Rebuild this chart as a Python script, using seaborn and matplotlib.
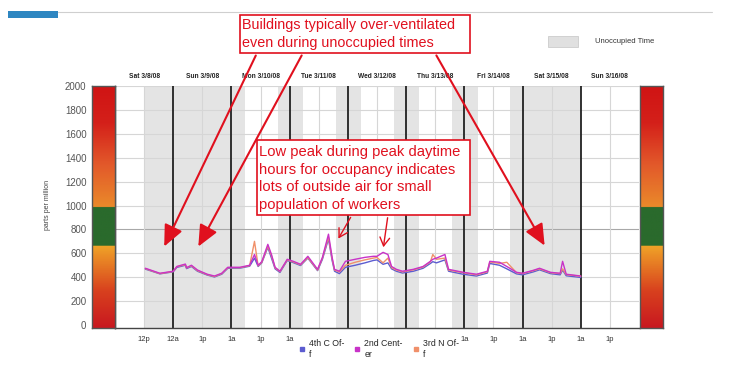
import numpy as np
import pandas as pd
import matplotlib
matplotlib.use('Agg')
import matplotlib.pyplot as plt
import seaborn as sns
from matplotlib.colors import LinearSegmentedColormap
from matplotlib.patches import Rectangle, FancyArrowPatch, FancyBboxPatch
from matplotlib.lines import Line2D

# hours since Sat 3/8/08 00:00
hours = [12.5, 18.5, 24, 25.5, 29, 29.5, 31.5, 34, 38, 41, 44, 46.5, 51.5, 55.5, 57.5, 59, 60.5,
         63, 64.5, 66, 68, 71, 73.5, 76.5, 79.5, 83.5, 85.5, 88, 89.5, 90.5, 92.5, 95, 99, 103,
         106.5, 108, 110.5, 112.5, 114, 116, 118.5, 123, 127, 130, 131, 132.5, 136, 137.5, 143.5,
         149, 153.5, 154.5, 158.5, 161.5, 165.5, 168, 172.5, 175, 179.5, 183.5, 184.5, 186, 192]
ppm_4th_c_off = [468, 428, 445, 482, 500, 472, 490, 450, 418, 402, 425, 475, 476, 492, 560, 490, 520,
                 650, 560, 470, 440, 540, 522, 498, 560, 455, 550, 720, 540, 450, 430, 483, 500, 520,
                 540, 545, 508, 520, 470, 450, 435, 450, 475, 515, 530, 520, 545, 450, 425,
                 410, 435, 515, 500, 470, 428, 420, 445, 462, 430, 420, 460, 412, 398]
ppm_2nd_center = [475, 433, 450, 490, 510, 480, 500, 460, 425, 410, 433, 483, 483, 500, 590, 500, 530,
                  675, 590, 483, 450, 550, 533, 508, 575, 466, 566, 760, 566, 466, 450, 533, 550, 566,
                  575, 575, 608, 590, 490, 466, 450, 466, 490, 533, 550, 560, 590, 466, 441,
                  425, 450, 533, 525, 490, 441, 433, 458, 475, 441, 433, 533, 425, 410]
ppm_3rd_n_off = [472, 430, 448, 488, 505, 478, 496, 455, 422, 406, 430, 480, 480, 497, 700, 495, 525,
                 660, 580, 478, 447, 545, 528, 504, 565, 460, 560, 735, 555, 460, 445, 500, 525, 545,
                 560, 565, 520, 560, 480, 460, 445, 462, 485, 528, 590, 550, 560, 460, 438,
                 420, 445, 528, 515, 525, 438, 430, 455, 470, 438, 430, 470, 422, 408]

series_names = ['4th C Off', '2nd Center', '3rd N Off']
legend_labels = ['4th C Of-\nf', '2nd Cent-\ner', '3rd N Of-\nf']
series_colors = ['#5c5cd0', '#c832c8', '#f0906a']

day_labels = ['Sat 3/8/08', 'Sun 3/9/08', 'Mon 3/10/08', 'Tue 3/11/08', 'Wed 3/12/08',
              'Thu 3/13/08', 'Fri 3/14/08', 'Sat 3/15/08', 'Sun 3/16/08']
tick_hours = list(range(12, 205, 12))
tick_labels = ['12p', '12a', '1p', '1a', '1p', '1a', '', '', '', '', '', '1a', '1p', '1a', '1p', '1a', '1p']
unoccupied = [(12, 48), (48, 53.5), (67, 77.5), (91, 101.5), (115, 125.5), (139, 149.5), (163, 192)]

sns.set_style('white')
plt.rcParams['font.family'] = ['Liberation Sans', 'DejaVu Sans']

W, H = 730, 377
def fx(x):
    return x / W
def fy(y):
    return 1 - y / H

fig = plt.figure(figsize=(7.3, 3.77), dpi=100)
ax = fig.add_axes([fx(115), fy(328), (639 - 115) / W, (328 - 86) / H])
cl = fig.add_axes([fx(92), fy(328), 23 / W, (328 - 86) / H])
cr = fig.add_axes([fx(640), fy(328), 23 / W, (328 - 86) / H])

y0, y1 = -25, 2000

# unoccupied shading, grid, day separators
for a, b in unoccupied:
    ax.axvspan(a, b, color='#e4e4e4', lw=0, zorder=0)
for v in range(200, 2001, 200):
    ax.axhline(v, color='#a8a8a8' if v == 800 else '#d6d6d6', lw=0.8, zorder=1)
for h in range(12, 216, 24):
    ax.axvline(h, color='#d6d6d6', lw=0.8, zorder=1)
for h in range(24, 216, 24):
    ax.axvline(h, color='#222222', lw=1.3, zorder=2)

df = pd.DataFrame({
    'hour': hours * 3,
    'ppm': ppm_4th_c_off + ppm_2nd_center + ppm_3rd_n_off,
    'sensor': [series_names[0]] * len(hours) + [series_names[1]] * len(hours) + [series_names[2]] * len(hours),
})
sns.lineplot(data=df, x='hour', y='ppm', hue='sensor',
             hue_order=['4th C Off', '3rd N Off', '2nd Center'],
             palette=dict(zip(series_names, series_colors)),
             lw=1.0, legend=False, ax=ax, zorder=3)

ax.set_xlim(0, 216)
ax.set_ylim(y0, y1)
ax.set_xlabel('')
ax.set_ylabel('')
ax.set_xticks(tick_hours)
ax.set_xticklabels(tick_labels, fontsize=5.5, color='#333333')
ax.tick_params(axis='x', length=2, pad=4, color='#555555')
ax.set_yticks(range(0, 2001, 200))
ax.set_yticks(range(100, 2000, 200), minor=True)
ax.tick_params(axis='y', which='both', direction='in', length=3, labelleft=False, color='#555555')
for s in ['top', 'right']:
    ax.spines[s].set_visible(False)
for s in ['left', 'bottom']:
    ax.spines[s].set_color('#444444')
    ax.spines[s].set_linewidth(1.0)

for i, lab in enumerate(day_labels):
    ax.text(i * 24 + 12, 2080, lab, ha='center', va='center', fontsize=4.8,
            fontweight='bold', color='#222222', clip_on=False)

# colour scale bars
cmap = LinearSegmentedColormap.from_list('co2', [
    (0.0, '#c81820'), (0.15, '#d8401e'), (0.34, '#f0a428'), (0.34, '#2a6a2c'),
    (0.5, '#2a6a2c'), (0.5, '#ea8a2a'), (0.68, '#e2582a'), (0.85, '#d4201a'), (1.0, '#d01414')])
grad = np.linspace(0, 1, 400).reshape(-1, 1)
for c in (cl, cr):
    c.imshow(grad, cmap=cmap, aspect='auto', origin='lower', extent=[0, 1, y0, 2000])
    c.set_ylim(y0, y1)
    c.set_xlim(0, 1)
    c.set_xticks([])
    for s in c.spines.values():
        s.set_color('#555555')
        s.set_linewidth(1.0)
cl.set_yticks(range(0, 2001, 200))
cl.set_yticklabels([str(v) for v in range(0, 2001, 200)], fontsize=7, color='#555555')
cl.tick_params(axis='y', length=0, pad=4)
cr.set_yticks([])
fig.text(fx(48), fy(205), 'parts per million', rotation=90, ha='center', va='center',
         fontsize=5, color='#444444')

# series legend
handles = [Line2D([], [], ls='none', marker='s', markersize=3.5, color=c) for c in series_colors]
fig.legend(handles, legend_labels, loc='upper left', bbox_to_anchor=(fx(294), fy(334)),
           ncol=3, frameon=False, fontsize=6.3, handlelength=0.6, handletextpad=0.5,
           columnspacing=1.2, borderpad=0.1, labelspacing=0.2)

# unoccupied legend
fig.add_artist(Rectangle((fx(548), fy(47)), 30 / W, 11 / H, transform=fig.transFigure,
                         facecolor='#e0e0e0', edgecolor='#cccccc', lw=0.6))
fig.text(fx(595), fy(41.5), 'Unoccupied Time', fontsize=5.5, color='#333333', va='center')

# slide decoration
fig.add_artist(FancyBboxPatch((fx(8), fy(18)), 50 / W, 7 / H, transform=fig.transFigure,
                              boxstyle='round,pad=0.0', facecolor='#2e86c1', edgecolor='none'))
fig.add_artist(Line2D([fx(58), fx(712)], [fy(12), fy(12)], transform=fig.transFigure,
                      color='#cfcfcf', lw=0.8))

red = '#e0101e'
# annotation boxes
fig.add_artist(Rectangle((fx(240), fy(53)), 230 / W, 38 / H, transform=fig.transFigure,
                         facecolor='white', edgecolor=red, lw=1.2, zorder=6))
fig.text(fx(242), fy(34), 'Buildings typically over-ventilated\neven during unoccupied times',
         fontsize=10.4, color=red, va='center', ha='left', linespacing=1.38, zorder=7)
fig.add_artist(Rectangle((fx(257), fy(215)), 213 / W, 75 / H, transform=fig.transFigure,
                         facecolor='white', edgecolor=red, lw=1.2, zorder=6))
fig.text(fx(259), fy(178.5), 'Low peak during peak daytime\nhours for occupancy indicates\n'
         'lots of outside air for small\npopulation of workers',
         fontsize=10.6, color=red, va='center', ha='left', linespacing=1.34, zorder=7)

# arrows
for (xa, ya), (xb, yb) in [((257, 53), (163, 249)), ((303, 53), (197, 249)), ((435, 53), (546, 248))]:
    fig.add_artist(FancyArrowPatch((fx(xa), fy(ya)), (fx(xb), fy(yb)), transform=fig.transFigure,
                                   arrowstyle='-|>,head_length=1.0,head_width=0.45',
                                   mutation_scale=13, lw=1.5, color=red, zorder=8))
for (xa, ya), (xb, yb) in [((352, 215), (337, 241)), ((388, 215), (383, 250))]:
    fig.add_artist(FancyArrowPatch((fx(xa), fy(ya)), (fx(xb), fy(yb)), transform=fig.transFigure,
                                   arrowstyle='->,head_length=0.6,head_width=0.35',
                                   mutation_scale=10, lw=1.0, color=red, zorder=8))

fig.savefig('out.png', dpi=100)
